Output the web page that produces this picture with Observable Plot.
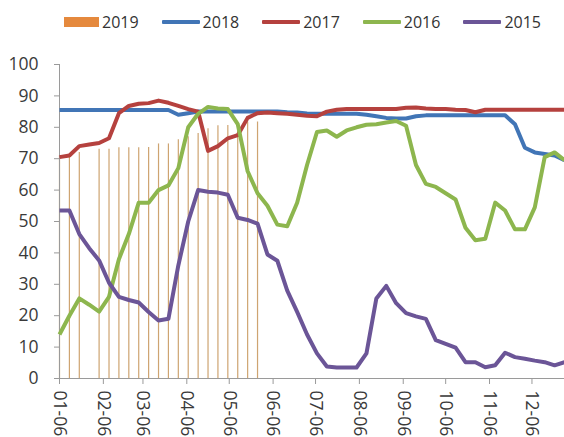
<!DOCTYPE html>
<html>
<head>
<meta charset="utf-8">
<script src="https://cdn.jsdelivr.net/npm/d3@7"></script>
<script src="https://cdn.jsdelivr.net/npm/@observablehq/plot@0.6"></script>
<style>
  body { margin: 0; background: #fff; font-family: "Open Sans", sans-serif; }
  #legend { height: 44px; display: flex; align-items: center; padding-left: 64px; font-size: 16px; color: #333; }
  .item { display: flex; align-items: center; margin-right: 23px; }
  .sw { width: 38px; height: 4px; margin-right: 3px; border-radius: 1px; }
  .sw.bar { width: 35px; height: 10px; border-radius: 0; }
</style>
</head>
<body>
<div id="legend"></div>
<div id="chart"></div>
<script>
// Month tick labels (MM-DD)
const tickLabels = ["01-06","02-06","03-06","04-06","05-06","06-06","07-06","08-06","09-06","10-06","11-06","12-06"];

// Weekly series, first week starting 01-06
const v2019 = [71, 71.5, 72, null, 73, 73, 73.5, 73.5, 73.5, 73.6, 74.7, 74.7, 76, 77, 78, 79.5, 80.5, 80.6, 81, 81.7, 81.7];

const v2018 = [85.5, 85.5, 85.5, 85.5, 85.5, 85.5, 85.5, 85.5, 85.5, 85.5, 85.5, 85.5,
  84, 84.5, 85, 85, 85, 85, 85, 85, 85, 85, 85, 84.8, 84.7,
  84.4, 84.3, 84.3, 84.3, 84.3, 84.3, 84, 83.5, 83, 82.8, 82.8, 83.5,
  83.8, 83.8, 83.8, 83.8, 83.8, 83.8, 83.8, 83.8, 83.8, 81, 73.5, 72, 71.5, 71, 69.5];

const v2017 = [70.5, 71, 74, 74.5, 75, 76.5, 84.5, 86.8, 87.5, 87.7, 88.5, 87.8, 86.8, 85.8, 85,
  72.5, 74, 76.5, 77.5, 83, 84.5, 84.7, 84.5, 84.3, 84, 83.7, 83.5, 85, 85.6,
  85.8, 85.8, 85.8, 85.8, 85.8, 85.8, 86.2, 86.3, 86, 85.8, 85.8, 85.6, 85.5,
  84.8, 85.6, 85.6, 85.6, 85.6, 85.6, 85.6, 85.6, 85.6, 85.6];

const v2016 = [14, 20, 25.5, 23.5, 21.3, 26, 38, 46, 56, 56, 60, 61.5, 67, 80, 84.3, 86.5, 86, 85.8, 81,
  66, 59, 55, 49, 48.5, 56, 68, 78.5, 79, 77, 79, 80, 80.8, 81, 81.5, 82, 80.5,
  68, 62, 61, 59, 57, 48, 44, 44.5, 56, 53.5, 47.5, 47.5, 54.5, 70.5, 72, 69.5];

const v2015 = [53.5, 53.5, 46, 41.5, 37.6, 30.5, 26, 25, 24.2, 21.2, 18.5, 19, 36, 50, 60, 59.5, 59.2, 58.5,
  51.2, 50.5, 49.3, 39.5, 37.5, 28, 21.2, 14, 8, 3.8, 3.5, 3.5, 3.5, 8, 25.5, 29.5, 24, 20.8,
  19.8, 19, 12.2, 11, 9.8, 5.2, 5.2, 3.6, 4.2, 8.2, 6.8, 6.3, 5.7, 5.2, 4.2, 5.2];

const seriesNames = ["2019", "2018", "2017", "2016", "2015"];
const seriesColors = ["#e5893d", "#4175b6", "#b5413e", "#8db64e", "#6b5597"];

// Week start dates (weekly steps from January 6)
const parse = d3.utcParse("%Y-%m-%d");
const start = parse("2019-01-06");
const weeks = d3.range(v2018.length).map(i => d3.utcDay.offset(start, 7 * i));
const ticks = tickLabels.map(t => parse("2019-" + t));

const toRows = (vals) => vals.map((v, i) => ({date: weeks[i], value: v})).filter(d => d.value != null);
const lines = [
  {name: "2018", data: toRows(v2018), color: seriesColors[1]},
  {name: "2017", data: toRows(v2017), color: seriesColors[2]},
  {name: "2016", data: toRows(v2016), color: seriesColors[3]},
  {name: "2015", data: toRows(v2015), color: seriesColors[4]}
];

// Legend
const legend = document.getElementById("legend");
seriesNames.forEach((name, i) => {
  const item = document.createElement("div");
  item.className = "item";
  const sw = document.createElement("span");
  sw.className = i === 0 ? "sw bar" : "sw";
  sw.style.background = seriesColors[i];
  const label = document.createElement("span");
  label.textContent = name;
  item.append(sw, label);
  legend.append(item);
});

const chart = Plot.plot({
  width: 564,
  height: 393,
  marginLeft: 59,
  marginRight: 0,
  marginTop: 20,
  marginBottom: 59,
  style: {fontFamily: "Open Sans, sans-serif", fontSize: "17.5px", color: "#3a3a3a", background: "#fff"},
  x: {type: "utc", domain: [weeks[0], weeks[weeks.length - 1]]},
  y: {domain: [0, 100]},
  marks: [
    // 2019 weekly columns drawn as thin rules
    Plot.ruleX(toRows(v2019), {x: "date", y1: 0, y2: "value", stroke: "#c99a62", strokeWidth: 1.2, strokeOpacity: 0.9}),
    Plot.ruleY([0], {stroke: "#9a9a9a"}),
    Plot.ruleX([weeks[0]], {y1: 0, y2: 100, stroke: "#9a9a9a"}),
    Plot.axisY({ticks: d3.range(0, 101, 10), tickSize: 5, tickPadding: 16, stroke: "#9a9a9a", fill: "#3a3a3a", label: null}),
    Plot.axisX({ticks, tickFormat: d3.utcFormat("%m-%d"), tickSize: 6, tickPadding: 6, tickRotate: 90, stroke: "#9a9a9a", fill: "#3a3a3a", label: null}),
    ...lines.map(s => Plot.line(s.data, {x: "date", y: "value", stroke: s.color, strokeWidth: 4, strokeLinejoin: "round", strokeLinecap: "butt"}))
  ]
});
document.getElementById("chart").append(chart);
</script>
</body>
</html>
